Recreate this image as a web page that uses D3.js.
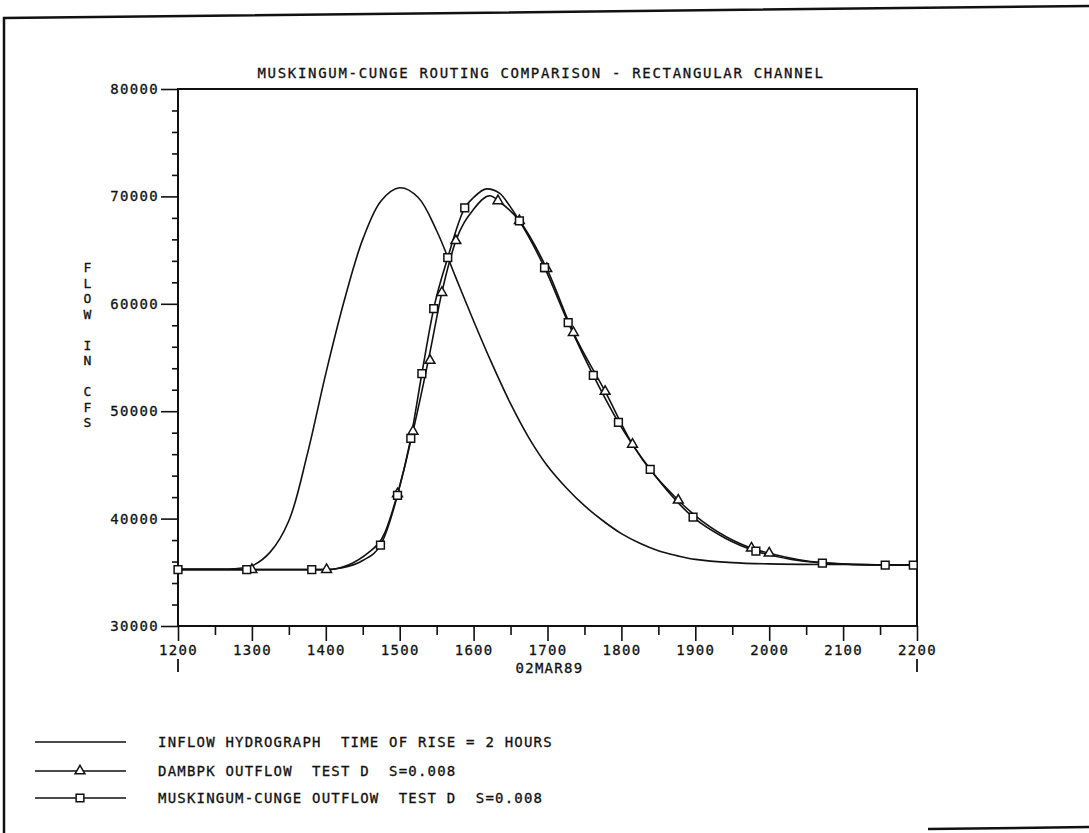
<!DOCTYPE html>
<html lang='en'>
<head>
	<meta charset='UTF-8'/>
	<title>Muskingum-Cunge Routing Comparison</title>
	<script src='https://cdnjs.cloudflare.com/ajax/libs/d3/7.8.5/d3.min.js'></script>
	<style>
		body {margin: 0; background: #fff;}
		svg {display: block;}
		text {font-family: 'DejaVu Sans Mono', monospace; font-size: 14px; letter-spacing: 1.3px; fill: #111; stroke: #111; stroke-width: 0.3px; white-space: pre;}
		.tick line {stroke: #111; stroke-width: 1.6;}
	</style>
</head>
<body>
	<div class='graph'></div>
	<script>
		// times are decimal hours on 02MAR89 (12 = 1200, 22 = 2200), flows in cfs
		const inflowTime = [12, 12.5, 12.75, 13, 13.25, 13.5, 13.75, 14, 14.25, 14.5, 14.75, 15, 15.25, 15.5, 15.75, 16, 16.25, 16.5, 16.75, 17, 17.25, 17.5, 17.75, 18, 18.25, 18.5, 18.75, 19, 19.5, 20, 21, 22];
		const inflowFlow = [35300, 35300, 35330, 35600, 36900, 39800, 46000, 53500, 60300, 66000, 69600, 70800, 69900, 66800, 62600, 58400, 54400, 50700, 47500, 44900, 42900, 41200, 39800, 38600, 37700, 37000, 36550, 36200, 35900, 35780, 35720, 35700];

		const dambrkTime = [12, 13, 14.01, 14.59, 14.8, 14.97, 15.18, 15.41, 15.57, 15.76, 16.0, 16.22, 16.35, 16.62, 16.99, 17.35, 17.78, 18.15, 18.77, 19.76, 20.0, 20.72, 21.57, 22];
		const dambrkFlow = [35250, 35250, 35250, 36900, 38700, 42300, 48120, 55500, 61040, 65870, 68800, 70060, 69500, 67730, 63270, 57320, 51840, 46910, 41710, 37250, 36780, 35900, 35680, 35670];

		const mcTime = [12, 13, 14.0, 14.2, 14.5, 14.74, 14.97, 15.15, 15.30, 15.46, 15.65, 15.88, 16.0, 16.18, 16.35, 16.5, 16.62, 16.96, 17.28, 17.62, 17.96, 18.39, 18.97, 19.4, 19.82, 20.3, 20.72, 21.57, 22];
		const mcFlow = [35250, 35250, 35250, 35400, 36100, 37530, 42170, 47470, 53510, 59550, 64290, 68940, 69900, 70700, 70300, 69000, 67730, 63360, 58250, 53330, 48960, 44590, 40130, 38200, 36970, 36200, 35860, 35670, 35670];

		// plotting symbols as placed along each curve
		const triTime = [13.0, 14.01, 14.97, 15.18, 15.41, 15.57, 15.76, 16.33, 16.62, 16.99, 17.35, 17.78, 18.15, 18.77, 19.76, 20.0];
		const triFlow = [35250, 35250, 42300, 48120, 54720, 61040, 65870, 69590, 67730, 63270, 57320, 51840, 46910, 41710, 37250, 36780];
		const sqTime = [12.0, 12.93, 13.81, 14.74, 14.97, 15.15, 15.30, 15.46, 15.65, 15.88, 16.62, 16.96, 17.28, 17.62, 17.96, 18.39, 18.97, 19.82, 20.72, 21.57, 21.95];
		const sqFlow = [35250, 35250, 35250, 37530, 42170, 47470, 53510, 59550, 64290, 68940, 67730, 63360, 58250, 53330, 48960, 44590, 40130, 36970, 35860, 35670, 35670];

		const xTicks = [12, 13, 14, 15, 16, 17, 18, 19, 20, 21, 22];
		const yTicks = [30000, 40000, 50000, 60000, 70000, 80000];
		const titleText = 'MUSKINGUM-CUNGE ROUTING COMPARISON - RECTANGULAR CHANNEL';
		const yLabel = 'FLOW IN CFS';
		const dateLabel = '02MAR89';
		const legendLabels = [
			'INFLOW HYDROGRAPH  TIME OF RISE = 2 HOURS',
			'DAMBPK OUTFLOW  TEST D  S=0.008',
			'MUSKINGUM-CUNGE OUTFLOW  TEST D  S=0.008'
		];

		const width = 1089, height = 833;
		const ink = '#111';

		const svg = d3.select('.graph')
			.append('svg')
			.attr('width', width)
			.attr('height', height);

		// scanned page edge
		svg.append('path')
			.attr('d', 'M4,833 L4,18 L1089,6')
			.attr('fill', 'none').attr('stroke', ink).attr('stroke-width', 2.5);
		svg.append('path')
			.attr('d', 'M928,829 L1089,827')
			.attr('fill', 'none').attr('stroke', ink).attr('stroke-width', 2.5);

		const x = d3.scaleLinear().domain([12, 22]).range([178, 917]);
		const y = d3.scaleLinear().domain([30000, 80000]).range([626, 89]);

		// title
		svg.append('text')
			.attr('x', 541)
			.attr('y', 78)
			.attr('text-anchor', 'middle')
			.style('letter-spacing', '1.7px')
			.text(titleText);

		// frame
		svg.append('rect')
			.attr('x', x(12)).attr('y', y(80000))
			.attr('width', x(22) - x(12)).attr('height', y(30000) - y(80000))
			.attr('fill', 'none').attr('stroke', ink).attr('stroke-width', 2);

		// y axis, minor then major
		const yMinor = d3.range(30000, 80001, 2000).filter(d => d % 10000 !== 0);
		svg.append('g')
			.attr('transform', 'translate(' + x(12) + ',0)')
			.call(d3.axisLeft(y).tickValues(yMinor).tickSize(6).tickFormat(''))
			.call(g => g.select('.domain').remove());
		svg.append('g')
			.attr('transform', 'translate(' + x(12) + ',0)')
			.call(d3.axisLeft(y).tickValues(yTicks).tickSize(17).tickPadding(2).tickFormat(d3.format('d')))
			.call(g => g.select('.domain').remove())
			.call(g => g.selectAll('text').attr('font-family', null).attr('font-size', null).attr('fill', null));

		// x axis, minor then major
		const xMinor = d3.range(12.5, 22, 1);
		svg.append('g')
			.attr('transform', 'translate(0,' + y(30000) + ')')
			.call(d3.axisBottom(x).tickValues(xMinor).tickSize(9).tickFormat(''))
			.call(g => g.select('.domain').remove());
		svg.append('g')
			.attr('transform', 'translate(0,' + y(30000) + ')')
			.call(d3.axisBottom(x).tickValues(xTicks).tickSize(15).tickPadding(4).tickFormat(d => d3.format('d')(d * 100)))
			.call(g => g.select('.domain').remove())
			.call(g => g.selectAll('text').attr('font-family', null).attr('font-size', null).attr('fill', null));

		// end marks under first and last hour
		svg.selectAll('.endmark')
			.data([12, 22])
			.enter()
			.append('line')
			.attr('class', 'endmark')
			.attr('x1', d => x(d)).attr('x2', d => x(d))
			.attr('y1', 659).attr('y2', 672)
			.attr('stroke', ink).attr('stroke-width', 1.8);

		svg.append('text')
			.attr('x', x(17) + 2)
			.attr('y', 673)
			.attr('text-anchor', 'middle')
			.text(dateLabel);

		// stacked y label
		svg.selectAll('.ylab')
			.data(yLabel.split(''))
			.enter()
			.append('text')
			.attr('class', 'ylab')
			.attr('x', 88)
			.attr('y', (d, i) => 272 + i * 15.5)
			.attr('text-anchor', 'middle')
			.style('font-size', '13px')
			.text(d => d);

		// curves
		const smooth = d3.line()
			.x(d => x(d[0]))
			.y(d => y(d[1]))
			.curve(d3.curveCatmullRom.alpha(0.5));
		const routed = d3.line()
			.x(d => x(d[0]))
			.y(d => y(d[1]))
			.curve(d3.curveMonotoneX);

		const series = [
			{pts: d3.zip(inflowTime, inflowFlow), gen: smooth},
			{pts: d3.zip(dambrkTime, dambrkFlow), gen: routed},
			{pts: d3.zip(mcTime, mcFlow), gen: routed}
		];
		svg.selectAll('.curve')
			.data(series)
			.enter()
			.append('path')
			.attr('class', 'curve')
			.attr('d', d => d.gen(d.pts))
			.attr('fill', 'none')
			.attr('stroke', ink)
			.attr('stroke-width', 1.6);

		const triangle = d3.symbol().type(d3.symbolTriangle).size(42);
		const square = d3.symbol().type(d3.symbolSquare).size(60);

		svg.selectAll('.tri')
			.data(d3.zip(triTime, triFlow))
			.enter()
			.append('path')
			.attr('class', 'tri')
			.attr('d', triangle)
			.attr('transform', d => 'translate(' + x(d[0]) + ',' + y(d[1]) + ')')
			.attr('fill', '#fff').attr('stroke', ink).attr('stroke-width', 1.5);

		svg.selectAll('.sq')
			.data(d3.zip(sqTime, sqFlow))
			.enter()
			.append('path')
			.attr('class', 'sq')
			.attr('d', square)
			.attr('transform', d => 'translate(' + x(d[0]) + ',' + y(d[1]) + ')')
			.attr('fill', '#fff').attr('stroke', ink).attr('stroke-width', 1.5);

		// legend
		const legendY = [742, 771, 798];
		const legendSymbols = [null, triangle, square];
		const legend = svg.append('g').attr('id', 'legend');
		legendLabels.forEach((label, i) => {
			legend.append('line')
				.attr('x1', 35).attr('x2', 126)
				.attr('y1', legendY[i]).attr('y2', legendY[i])
				.attr('stroke', ink).attr('stroke-width', 1.6);
			if (legendSymbols[i]) {
				legend.append('path')
					.attr('d', legendSymbols[i])
					.attr('transform', 'translate(80,' + legendY[i] + ')')
					.attr('fill', '#fff').attr('stroke', ink).attr('stroke-width', 1.5);
			}
			legend.append('text')
				.attr('x', 158)
				.attr('y', legendY[i] + 5)
				.style('letter-spacing', '1.2px')
				.text(label);
		});
	</script>
</body>
</html>
